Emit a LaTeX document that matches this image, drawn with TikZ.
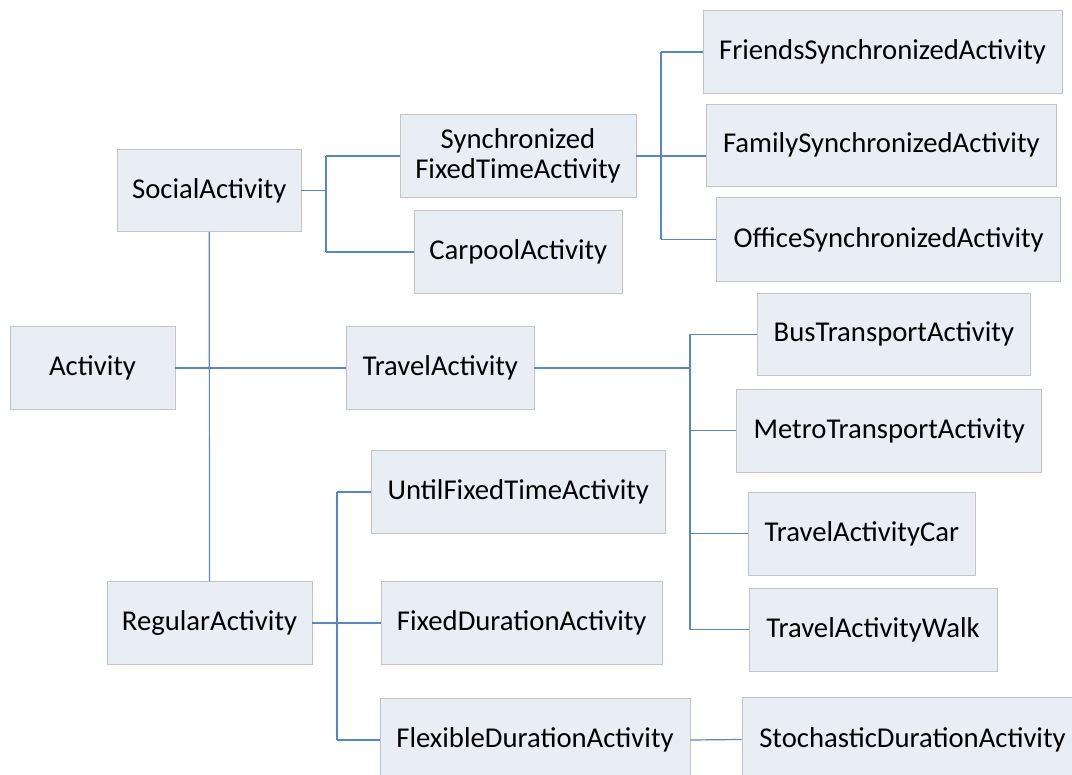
\documentclass[tikz,border=0pt]{standalone}
\usepackage{fontspec}
\setmainfont{Carlito}
\definecolor{boxfill}{RGB}{233,237,244}
\definecolor{boxline}{RGB}{196,196,196}
\definecolor{linkblue}{RGB}{83,137,204}
\tikzset{
  cbox/.style={draw=boxline, line width=0.9pt, fill=boxfill, inner sep=0pt,
    font=\fontsize{28.7}{30}\selectfont, text=black, align=center},
  link/.style={draw=linkblue, line width=1.2pt}
}
\newcommand{\mybox}[6]{% name, left, top, right, bottom, text
  \pgfmathsetmacro{\bw}{#4-#2}\pgfmathsetmacro{\bh}{#5-#3}
  \node[cbox, minimum width=\bw pt, minimum height=\bh pt] (#1) at ({(#2+#4)/2},{(#3+#5)/2+1.5}) {#6};}
\begin{document}
\begin{tikzpicture}[x=1pt,y=-1pt]
\clip (0,0) rectangle (1072,775);
\fill[white] (0,0) rectangle (1072,775);
\mybox{act}{10}{325}{175}{408}{Activity}
\mybox{soc}{117.5}{148}{301}{230}{SocialActivity}
\mybox{sync}{400}{113}{636}{196}{Synchronized\\FixedTimeActivity}
\mybox{carpool}{414.6}{208.7}{622}{292.3}{CarpoolActivity}
\mybox{friends}{703}{9}{1062}{92}{FriendsSynchronizedActivity}
\mybox{family}{706}{102.7}{1056.7}{185}{FamilySynchronizedActivity}
\mybox{office}{716.7}{196}{1060.7}{280}{OfficeSynchronizedActivity}
\mybox{travel}{346.5}{325}{534}{408}{TravelActivity}
\mybox{bus}{757}{291.7}{1030.7}{374}{BusTransportActivity}
\mybox{metro}{736.7}{387.7}{1041.7}{470.7}{MetroTransportActivity}
\mybox{car}{748}{490.7}{975.7}{574}{TravelActivityCar}
\mybox{walk}{749}{586.7}{997}{670}{TravelActivityWalk}
\mybox{until}{371.7}{449}{665}{532}{UntilFixedTimeActivity}
\mybox{regular}{107}{580}{312}{663}{RegularActivity}
\mybox{fixeddur}{381}{580}{662.5}{663}{FixedDurationActivity}
\mybox{flexible}{380}{697}{690}{780}{FlexibleDurationActivity}
\mybox{stoch}{742}{696}{1083}{780}{StochasticDurationActivity}
% connectors
\coordinate (jS) at (326,0);
\coordinate (jY) at (661,0);
\coordinate (jT) at (690,0);
\coordinate (jR) at (337,0);
\draw[link] (act.east) -- (travel.west);
\draw[link] (soc.south) -- (regular.north);
\draw[link] (soc.east) -- (soc.east -| jS);
\draw[link] (sync.west -| jS) -- (sync.west);
\draw[link] (carpool.west -| jS) -- (carpool.west);
\draw[link] (sync.west -| jS) -- (carpool.west -| jS);
\draw[link] (sync.east) -- (sync.east -| family.west);
\draw[link] (friends.west -| jY) -- (friends.west);
\draw[link] (office.west -| jY) -- (office.west);
\draw[link] (friends.west -| jY) -- (office.west -| jY);
\draw[link] (travel.east) -- (travel.east -| jT);
\draw[link] (bus.west -| jT) -- (bus.west);
\draw[link] (metro.west -| jT) -- (metro.west);
\draw[link] (car.west -| jT) -- (car.west);
\draw[link] (walk.west -| jT) -- (walk.west);
\draw[link] (bus.west -| jT) -- (walk.west -| jT);
\draw[link] (regular.east) -- (fixeddur.west);
\draw[link] (until.west -| jR) -- (until.west);
\draw[link] (flexible.west -| jR) -- (flexible.west);
\draw[link] (until.west -| jR) -- (flexible.west -| jR);
\draw[link] (flexible.east) -- (stoch.west);
\end{tikzpicture}
\end{document}
